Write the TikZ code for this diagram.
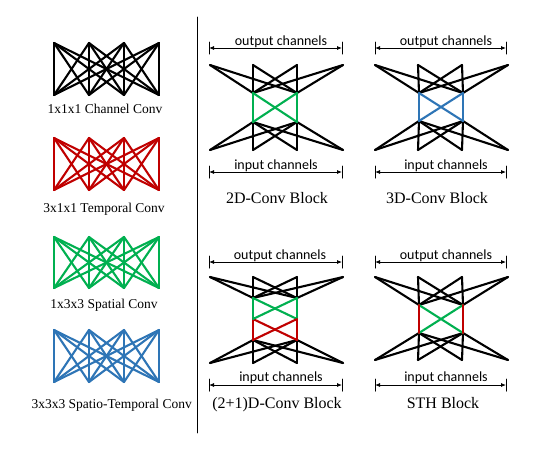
\documentclass[tikz,border=0pt]{standalone}
\usepackage{fontspec}
\setmainfont{Liberation Serif}
\newfontfamily\chfont{Carlito}
\usetikzlibrary{arrows.meta}
\definecolor{cred}{HTML}{C00000}
\definecolor{cgreen}{HTML}{00B050}
\definecolor{cblue}{HTML}{2E75B6}
\begin{document}
\begin{tikzpicture}[x=1pt,y=-1pt,line cap=round,line join=round]
\tikzset{
  net/.style={line width=2.1pt},
  chan/.style={line width=0.8pt,{Latex[length=5pt,width=4pt]}-{Latex[length=5pt,width=4pt]}},
  barline/.style={line width=1pt},
  lbl/.style={font=\fontsize{13.5}{15}\selectfont,anchor=base,inner sep=0pt},
  ttl/.style={font=\fontsize{16}{18}\selectfont,anchor=base,inner sep=0pt},
  chtxt/.style={font=\chfont\fontsize{14}{16}\selectfont,anchor=base,inner sep=0pt}
}
\useasboundingbox (0,0) rectangle (540,453);
\fill[white] (0,0) rectangle (540,453);

% ---------- left icons ----------
\foreach \c/\yt/\yb/\n in {black/43/95/a, cred/138/190/b, cgreen/237/288/c, cblue/330/382/d}{
  \foreach \i/\x in {1/54,2/89,3/124,4/159}{
    \coordinate (\n t\i) at (\x,\yt);
    \coordinate (\n b\i) at (\x,\yb);
  }
  \foreach \i in {1,...,4}{\foreach \j in {1,...,4}{\draw[net,\c] (\n t\i) -- (\n b\j);}}
}
\node[lbl] (la) at (105,113) {1x1x1 Channel Conv};
\node[lbl] (lb) at (104,212) {3x1x1 Temporal Conv};
\node[lbl] (lc) at (104,308) {1x3x3 Spatial Conv};
\node[lbl,anchor=base east] (ld) at (192,408) {3x3x3 Spatio-Temporal Conv};

% separator
\coordinate (s1) at (197,17);
\coordinate (s2) at (197,433);
\draw[line width=0.9pt] (s1) -- (s2);

% ---------- block helper coordinates ----------
\foreach \i/\x in {1/210,2/253,3/297,4/343}{
  \coordinate (P-t\i) at (\x,65); \coordinate (P-b\i) at (\x,150);
  \coordinate (Q-t\i) at (\x+165,65); \coordinate (Q-b\i) at (\x+165,150);
  \coordinate (R-t\i) at (\x,277); \coordinate (R-b\i) at (\x,363);
  \coordinate (S-t\i) at (\x+165,277); \coordinate (S-b\i) at (\x+165,360);
}
\foreach \i/\x in {1/253,2/297}{
  \coordinate (P-m\i) at (\x,93);  \coordinate (P-n\i) at (\x,122);
  \coordinate (Q-m\i) at (\x+166,93);  \coordinate (Q-n\i) at (\x+166,121);
  \coordinate (R-m\i) at (\x,298); \coordinate (R-n\i) at (\x,319); \coordinate (R-o\i) at (\x,340);
  \coordinate (S-m\i) at (\x+166,305); \coordinate (S-n\i) at (\x+166,333);
}
% black fans
\foreach \B/\lo in {P/n,Q/n,R/o,S/n}{
  \foreach \i in {1,...,4}{\foreach \j in {1,2}{
    \draw[net] (\B-t\i) -- (\B-m\j);
    \draw[net] (\B-\lo\j) -- (\B-b\i);
  }}
}
% coloured middles
\foreach \i in {1,2}{\foreach \j in {1,2}{
  \draw[net,cgreen] (P-m\i) -- (P-n\j);
  \draw[net,cblue]  (Q-m\i) -- (Q-n\j);
  \draw[net,cgreen] (R-m\i) -- (R-n\j);
  \draw[net,cred]   (R-n\i) -- (R-o\j);
}}
\draw[net,cgreen] (S-m1) -- (S-n2) (S-m2) -- (S-n1);
\draw[net,cred] (S-m1) -- (S-n1) (S-m2) -- (S-n2);

% ---------- channel arrows ----------
\foreach \B/\xl/\xr/\yo/\yi in {P/209/342/48/172, Q/375/506/48/172, R/209/342/262/385, S/375/506/262/385}{
  \coordinate (\B-ol) at (\xl,\yo); \coordinate (\B-or) at (\xr,\yo);
  \coordinate (\B-il) at (\xl,\yi); \coordinate (\B-ir) at (\xr,\yi);
  \draw[chan] (\B-ol) -- (\B-or);
  \draw[chan] (\B-il) -- (\B-ir);
  \foreach \e in {ol,or,il,ir}{
    \draw[barline] ([yshift=-6pt]\B-\e) -- ([yshift=6pt]\B-\e);
  }
}
\node[chtxt] (P-otx) at (281,45.5) {output channels};
\node[chtxt] (P-itx) at (276,169) {input channels};
\node[chtxt] (Q-otx) at (446,45.5) {output channels};
\node[chtxt] (Q-itx) at (446,169) {input channels};
\node[chtxt] (R-otx) at (280,259) {output channels};
\node[chtxt] (R-itx) at (281,381) {input channels};
\node[chtxt] (S-otx) at (446,259) {output channels};
\node[chtxt] (S-itx) at (446,381) {input channels};

% ---------- titles ----------
\node[ttl] (P-ttl) at (277,203) {2D-Conv Block};
\node[ttl] (Q-ttl) at (437,203) {3D-Conv Block};
\node[ttl] (R-ttl) at (277,408) {(2+1)D-Conv Block};
\node[ttl] (S-ttl) at (443,408) {STH Block};
\end{tikzpicture}
\end{document}
